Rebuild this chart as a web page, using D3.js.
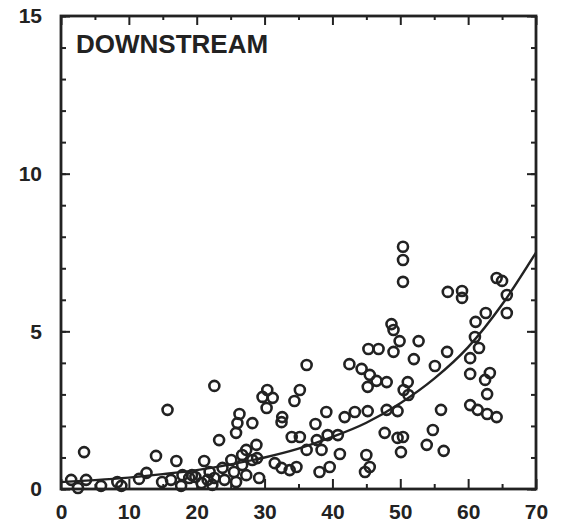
<!DOCTYPE html>
<html>
<head>
<meta charset="utf-8">
<script src="https://cdn.jsdelivr.net/npm/d3@7"></script>
<style>
  html, body { margin: 0; padding: 0; background: #fff; }
  svg { display: block; }
  .lbl text { font-family: "Liberation Sans", Arial, sans-serif; font-weight: bold; font-size: 21px; fill: #222; }
</style>
</head>
<body>
<svg id="chart" width="563" height="526"></svg>
<script>
// Observed samples, downstream reach
const xValues = [
  50.4, 50.4, 50.4, 57.0, 59.1, 59.1, 64.2, 65.0, 65.7, 65.7, 62.6, 61.1, 48.7, 49.0, 49.9, 52.7,
  49.0, 45.3, 46.8, 52.0, 56.9, 61.0, 61.6, 60.3, 55.1, 60.3, 63.2, 62.5, 62.8, 42.5, 44.3, 45.5,
  46.5, 45.2, 48.0, 51.1, 50.5, 51.2, 36.2, 22.6, 15.7, 30.4, 29.7, 31.2, 35.2, 34.4, 30.3, 26.3,
  28.2, 32.6, 32.5, 26.0, 25.8, 39.1, 37.5, 41.8, 43.3, 45.2, 48.0, 49.6, 56.0, 60.3, 61.4, 62.8,
  64.2, 23.3, 34.0, 35.2, 37.7, 39.3, 40.8, 47.7, 49.6, 50.4, 50.1, 54.8, 53.9, 56.4, 45.0, 45.5,
  44.8, 27.3, 28.8, 26.7, 28.2, 28.9, 25.1, 23.8, 25.5, 22.6, 24.1, 25.8, 26.7, 31.5, 32.5, 33.7,
  34.7, 29.2, 36.2, 38.4, 41.1, 38.1, 39.6, 3.4, 14.0, 17.0, 21.1, 12.6, 1.5, 3.7, 2.5, 5.9,
  8.3, 8.9, 11.5, 14.9, 16.2, 17.7, 17.9, 19.3, 19.8, 20.7, 21.6, 21.9, 22.3, 18.9, 27.3
];
const yValues = [
  7.68, 7.26, 6.57, 6.25, 6.28, 6.06, 6.69, 6.60, 6.15, 5.58, 5.58, 5.30, 5.23, 5.04, 4.69, 4.69,
  4.35, 4.44, 4.44, 4.12, 4.35, 4.82, 4.47, 4.15, 3.90, 3.65, 3.68, 3.46, 3.01, 3.96, 3.81, 3.62,
  3.43, 3.24, 3.39, 3.39, 3.14, 2.98, 3.93, 3.27, 2.51, 3.14, 2.92, 2.89, 3.14, 2.79, 2.57, 2.38,
  2.09, 2.28, 2.12, 2.09, 1.78, 2.44, 2.06, 2.28, 2.44, 2.47, 2.51, 2.47, 2.51, 2.66, 2.51, 2.38,
  2.28, 1.55, 1.65, 1.65, 1.55, 1.71, 1.71, 1.78, 1.62, 1.65, 1.17, 1.87, 1.40, 1.21, 1.08, 0.70,
  0.54, 1.24, 1.40, 1.08, 0.92, 0.98, 0.92, 0.67, 0.54, 0.35, 0.29, 0.22, 0.76, 0.82, 0.67, 0.60,
  0.70, 0.35, 1.24, 1.24, 1.11, 0.54, 0.70, 1.17, 1.05, 0.89, 0.89, 0.51, 0.29, 0.29, 0.03, 0.10,
  0.22, 0.10, 0.32, 0.22, 0.29, 0.10, 0.44, 0.44, 0.38, 0.19, 0.29, 0.54, 0.13, 0.35, 0.44
];

// Fitted trend, sampled every 5 units
const fitX = [0, 5, 10, 15, 20, 25, 30, 35, 40, 45, 50, 55, 60, 65, 70];
const fitY = [0.22, 0.28, 0.36, 0.47, 0.60, 0.78, 1.0, 1.28, 1.65, 2.1, 2.72, 3.5, 4.5, 5.85, 7.5];

const xMajorTicks = [0, 10, 20, 30, 40, 50, 60, 70];
const xMinorTicks = [5, 15, 25, 35, 45, 55, 65];
const yMajorTicks = [0, 5, 10, 15];
const yMinorTicks = d3.range(0, 16);
const title = "DOWNSTREAM";

const ink = "#222";
const svg = d3.select("#chart");
const plotL = 61, plotR = 536, plotT = 16, plotB = 489;

const x = d3.scaleLinear().domain([0, 70]).range([plotL, plotR]);
const y = d3.scaleLinear().domain([0, 15]).range([plotB, plotT]);

function styleAxis(g) {
  g.select(".domain").remove();
  g.selectAll(".tick line").attr("stroke", ink).attr("stroke-width", 2);
}

// Bottom axis: labelled majors and short minors, ticks pointing inward
svg.append("g").attr("class", "lbl").attr("transform", `translate(0,${plotB})`)
  .call(d3.axisBottom(x).tickValues(xMajorTicks).tickSize(-10).tickPadding(15).tickFormat(d3.format("d")))
  .call(styleAxis);
svg.append("g").attr("transform", `translate(0,${plotB})`)
  .call(d3.axisBottom(x).tickValues(xMinorTicks).tickSize(-5).tickFormat(""))
  .call(styleAxis);

// Top axis
svg.append("g").attr("transform", `translate(0,${plotT})`)
  .call(d3.axisTop(x).tickValues(xMajorTicks).tickSize(-9).tickFormat(""))
  .call(styleAxis);
svg.append("g").attr("transform", `translate(0,${plotT})`)
  .call(d3.axisTop(x).tickValues(xMinorTicks).tickSize(-4).tickFormat(""))
  .call(styleAxis);

// Left axis
svg.append("g").attr("class", "lbl").attr("transform", `translate(${plotL},0)`)
  .call(d3.axisLeft(y).tickValues(yMajorTicks).tickSize(-9).tickPadding(19).tickFormat(d3.format("d")))
  .call(styleAxis);
svg.append("g").attr("transform", `translate(${plotL},0)`)
  .call(d3.axisLeft(y).tickValues(yMinorTicks).tickSize(-5).tickFormat(""))
  .call(styleAxis);

// Right axis
svg.append("g").attr("transform", `translate(${plotR},0)`)
  .call(d3.axisRight(y).tickValues(yMajorTicks).tickSize(-9).tickFormat(""))
  .call(styleAxis);
svg.append("g").attr("transform", `translate(${plotR},0)`)
  .call(d3.axisRight(y).tickValues(yMinorTicks).tickSize(-5).tickFormat(""))
  .call(styleAxis);

// Frame
svg.append("rect")
  .attr("x", plotL).attr("y", plotT)
  .attr("width", plotR - plotL).attr("height", plotB - plotT)
  .attr("fill", "none").attr("stroke", ink).attr("stroke-width", 2.8);

// Trend curve
const fitPts = fitX.map((v, i) => [v, fitY[i]]);
svg.append("path")
  .datum(fitPts)
  .attr("fill", "none").attr("stroke", ink).attr("stroke-width", 2.4)
  .attr("d", d3.line().x(d => x(d[0])).y(d => y(d[1])).curve(d3.curveMonotoneX));

// Sample points
const pts = xValues.map((v, i) => [v, yValues[i]]);
svg.append("g").selectAll("circle").data(pts).join("circle")
  .attr("cx", d => x(d[0])).attr("cy", d => y(d[1]))
  .attr("r", 5)
  .attr("fill", "none").attr("stroke", ink).attr("stroke-width", 2.6);

// Panel title
svg.append("text")
  .attr("x", 76).attr("y", 53)
  .attr("font-family", "'Liberation Sans', Arial, sans-serif")
  .attr("font-weight", "bold").attr("font-size", 26)
  .attr("fill", ink)
  .text(title);
</script>
</body>
</html>
